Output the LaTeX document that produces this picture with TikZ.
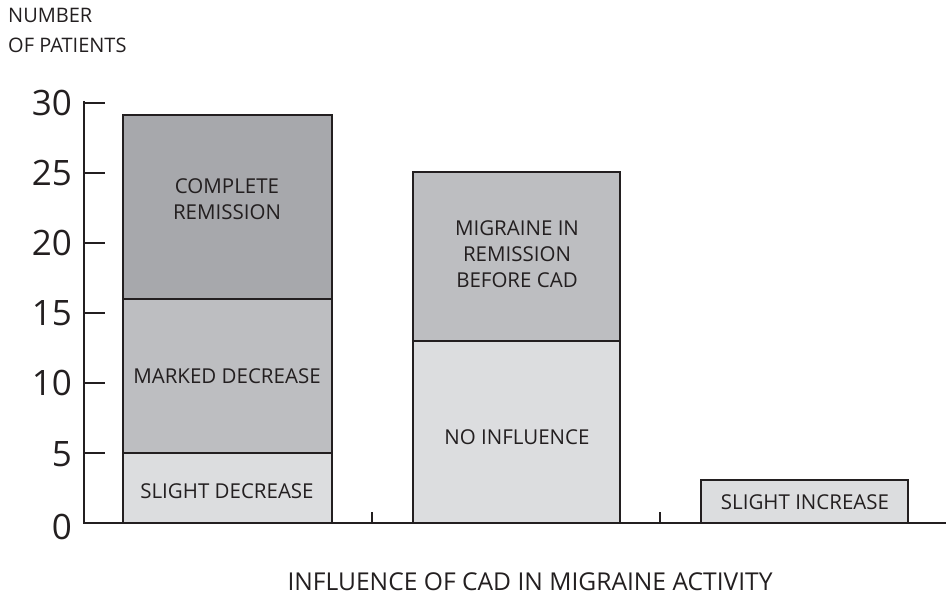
\documentclass[tikz,border=0pt]{standalone}
\usepackage{fontspec}
\setmainfont{Open Sans}
\definecolor{darkg}{HTML}{A7A8AC}
\definecolor{midg}{HTML}{BDBEC1}
\definecolor{lightg}{HTML}{DCDDDF}
\definecolor{ink}{HTML}{231F20}
\begin{document}
\begin{tikzpicture}[x=1pt,y=-1pt,
  seg/.style={draw=ink,line width=1.2pt},
  axisline/.style={draw=ink,line width=2.4pt},
  lbl/.style={text=ink,font=\fontsize{20.5}{26}\selectfont,align=center,inner sep=0pt},
  num/.style={text=ink,font=\fontsize{35}{35}\selectfont,anchor=east,inner sep=0pt},
  ttl/.style={text=ink,font=\fontsize{20}{30}\selectfont,inner sep=0pt}]
\useasboundingbox (0,0) rectangle (946,596);
% bars
\filldraw[seg,fill=lightg] (123,523) rectangle (332,453);
\filldraw[seg,fill=midg] (123,453) rectangle (332,299);
\filldraw[seg,fill=darkg] (123,299) rectangle (332,115);
\filldraw[seg,fill=lightg] (413,523) rectangle (620,341);
\filldraw[seg,fill=midg] (413,341) rectangle (620,172);
\filldraw[seg,fill=lightg] (701,523) rectangle (908,480);
% axes
\draw[axisline,line cap=rect] (84,102) -- (84,523) -- (946,523);
\foreach \v in {0,5,...,30}{\draw[axisline] (84,523-14*\v) -- (105,523-14*\v);}
\draw[axisline] (372,523) -- (372,512);
\draw[axisline] (660,523) -- (660,512);
% tick labels
\node[num] (n30) at (72,103) {30};
\node[num] (n25) at (72,173) {25};
\node[num] (n20) at (72,243) {20};
\node[num] (n15) at (72,313) {15};
\node[num] (n10) at (72,383) {10};
\node[num] (n5) at (72,454) {5};
\node[num] (n0) at (72,527) {0};
% bar labels
\node[lbl] (cr) at (227,199) {COMPLETE\\REMISSION};
\node[lbl] (md) at (227,376) {MARKED DECREASE};
\node[lbl] (sd) at (227,491) {SLIGHT DECREASE};
\node[lbl] (mr) at (517,254) {MIGRAINE IN\\REMISSION\\BEFORE CAD};
\node[lbl] (ni) at (517,437) {NO INFLUENCE};
\node[lbl] (si) at (805,502) {SLIGHT INCREASE};
% titles
\node[ttl,anchor=west,align=left] (yt) at (8,30) {NUMBER\\OF PATIENTS};
\node[lbl,font=\fontsize{24.6}{30}\selectfont] (xt) at (530,582) {INFLUENCE OF CAD IN MIGRAINE ACTIVITY};
\end{tikzpicture}
\end{document}
